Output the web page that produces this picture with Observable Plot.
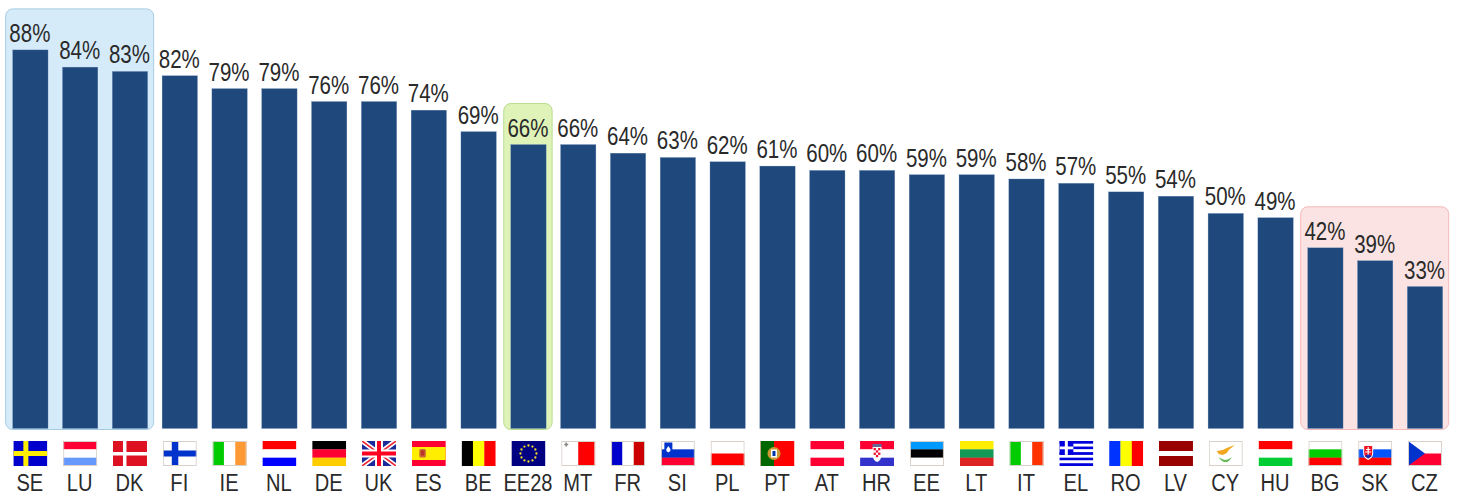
<!DOCTYPE html>
<html><head><meta charset="utf-8">
<script src="https://cdn.jsdelivr.net/npm/d3@7"></script>
<script src="https://cdn.jsdelivr.net/npm/@observablehq/plot@0.6"></script>
<style>html,body{margin:0;padding:0;background:#fff;overflow:hidden}svg{display:block}</style>
</head><body><div id="chart"></div>
<script>
const codes = ["SE","LU","DK","FI","IE","NL","DE","UK","ES","BE","EE28","MT","FR","SI","PL","PT","AT","HR","EE","LT","IT","EL","RO","LV","CY","HU","BG","SK","CZ"];
const shares = [88,84,83,82,79,79,76,76,74,69,66,66,64,63,62,61,60,60,59,59,58,57,55,54,50,49,42,39,33];
const groupFrom = ["SE","EE28","BG"];
const groupTo = ["DK","EE28","CZ"];
const groupFill = ["#d6ebfa","#dff3b9","#fae3e2"];
const groupStroke = ["#a6cde4","#b9db8e","#f6b9bb"];

const W=34,H=25;
const hs=(cs,extra="")=>{const h=H/cs.length;return cs.map((c,i)=>`<rect x="0" y="${i*h}" width="${W}" height="${h+.2}" fill="${c}"/>`).join("")+extra};
const vs=(cs,extra="")=>{const w=W/cs.length;return cs.map((c,i)=>`<rect x="${i*w}" y="0" width="${w+.2}" height="${H}" fill="${c}"/>`).join("")+extra};
const border=`<rect x=".5" y=".5" width="33" height="24" fill="none" stroke="#d8d0ca"/>`;
const stars=Array.from({length:12},(_,i)=>{const a=i*Math.PI/6;return `<circle cx="${17+8*Math.sin(a)}" cy="${12.5-8*Math.cos(a)}" r="1.15" fill="#f4dc2a"/>`}).join("");
const greek=Array.from({length:9},(_,i)=>`<rect x="0" y="${i*25/9}" width="34" height="${25/9+.1}" fill="${i%2?"#fff":"#0000dd"}"/>`).join("")+`<rect width="14" height="13.9" fill="#0000dd"/><rect x="5.5" width="3" height="13.9" fill="#fff"/><rect y="5.5" width="14" height="2.8" fill="#fff"/>`;
const flagArt = {
 SE:`<rect width="34" height="25" fill="#0000cc"/><rect x="10" width="5" height="25" fill="#ffee00"/><rect y="10" width="34" height="5" fill="#ffee00"/>`,
 LU:hs(["#ff0033","#ffffff","#6699ff"])+border,
 DK:`<rect width="34" height="25" fill="#dd1122"/><rect x="10" width="3.5" height="25" fill="#fff"/><rect y="11" width="34" height="3.5" fill="#fff"/>`,
 FI:`<rect width="34" height="25" fill="#fff"/><rect x="9" width="6.5" height="25" fill="#0033cc"/><rect y="9.5" width="34" height="6" fill="#0033cc"/>`+border,
 IE:vs(["#00cc00","#ffffff","#ff9933"])+border,
 NL:hs(["#ff0000","#ffffff","#0000ff"]),
 DE:hs(["#000000","#ff0033","#ffcc00"]),
 UK:`<rect width="34" height="25" fill="#1a2a9a"/><path d="M0 0L34 25M34 0L0 25" stroke="#fff" stroke-width="5"/><path d="M0 0L34 25M34 0L0 25" stroke="#ee2233" stroke-width="1.6"/><rect x="13" width="8" height="25" fill="#fff"/><rect y="8.5" width="34" height="8" fill="#fff"/><rect x="15" width="4" height="25" fill="#ff0022"/><rect y="10.5" width="34" height="4" fill="#ff0022"/>`,
 ES:`<rect width="34" height="25" fill="#ff0033"/><rect y="6" width="34" height="13" fill="#ffee00"/><rect x="7.5" y="8" width="6.5" height="8.5" rx="1.5" fill="#cc6633"/><rect x="9" y="9.5" width="3.5" height="5" fill="#b8352a"/>`,
 BE:vs(["#000000","#ffff00","#ff0000"]),
 EE28:`<rect width="34" height="25" fill="#000080"/>`+stars,
 MT:vs(["#ffffff","#ff0000"],`<path d="M3 3.5h4M5 1.5v4" stroke="#888" stroke-width="1.6"/>`)+border,
 FR:vs(["#0000cc","#ffffff","#cc0000"])+border,
 SI:hs(["#ffffff","#0033cc","#ff0033"],`<path d="M3.5 1.5h8v7q0 4-4 5q-4-1-4-5z" fill="#0033cc"/><path d="M5.5 8l2-3 2 3v2l-2 1.5-2-1.5z" fill="#fff"/>`)+border,
 PL:hs(["#ffffff","#ff0000"])+border,
 PT:`<rect width="34" height="25" fill="#ff0000"/><rect width="13.5" height="25" fill="#006600"/><circle cx="13.5" cy="12.5" r="6.5" fill="#cc9933"/><rect x="10.5" y="8.5" width="6" height="8" fill="#fff"/><rect x="12" y="10" width="3" height="5" fill="#0033aa"/>`,
 AT:hs(["#ff0033","#ffffff","#ff0033"]),
 HR:hs(["#ff0033","#ffffff","#3333cc"],`<rect x="12.5" y="3" width="9" height="3" fill="#666699"/><path d="M12.5 6h9v9q-1 5-4.5 6q-3.500-1-4.500-6z" fill="#fff"/><rect x="13.500" y="7" width="2.300" height="2.300" fill="#ee1133"/><rect x="18" y="7" width="2.300" height="2.300" fill="#ee1133"/><rect x="15.800" y="9.300" width="2.300" height="2.300" fill="#ee1133"/><rect x="13.500" y="11.600" width="2.300" height="2.300" fill="#ee1133"/><rect x="18" y="11.600" width="2.300" height="2.300" fill="#ee1133"/><rect x="15.800" y="13.900" width="2.300" height="2.300" fill="#ee1133"/>`),
 EE:hs(["#0099ff","#000000","#ffffff"])+border,
 LT:hs(["#ffee00","#119955","#dd2222"]),
 IT:vs(["#00cc00","#ffffff","#ff3300"])+border,
 EL:greek,
 RO:vs(["#0033ff","#ffff00","#ff0000"]),
 LV:`<rect width="34" height="25" fill="#990000"/><rect y="10" width="34" height="5" fill="#fff"/>`,
 CY:`<rect width="34" height="25" fill="#fff"/><path d="M8 10l6-1 4-2 8-3-6 5-2 3-4 2-4-1z" fill="#f2a71e"/><path d="M10 16q7 6 13 0q-3 6-6.500 5q-4 0-6.500-5z" fill="#66bb55"/>`+border,
 HU:hs(["#ff0000","#ffffff","#00cc33"]),
 BG:hs(["#ffffff","#00cc00","#ff0000"])+border,
 SK:hs(["#ffffff","#0055ff","#ff0000"],`<path d="M5 4h10v8q0 5-5 7q-5-2-5-7z" fill="#fff"/><path d="M6 5h8v7q0 4-4 5.500q-4-1.500-4-5.500z" fill="#ee1122"/><path d="M10 6v9M7.800 8.500h4.400M7 11h6" stroke="#fff" stroke-width="1.200"/><path d="M6.500 15q3.500-3 7 0l-3.500 2.500z" fill="#1133bb"/>`)+border,
 CZ:hs(["#ffffff","#ff0033"],`<path d="M0 0L17 12.500L0 25z" fill="#0033cc"/>`)+border
};
const flagSrc = c => "data:image/svg+xml," + encodeURIComponent(`<svg xmlns="http://www.w3.org/2000/svg" width="34" height="25" viewBox="0 0 34 25" preserveAspectRatio="none">${flagArt[c]}</svg>`);

const rows = codes.map((code,i)=>({code,share:shares[i]}));
const byCode = new Map(rows.map(d=>[d.code,d.share]));
const groups = groupFrom.map((from,i)=>({from,to:groupTo[i],top:byCode.get(from),fill:groupFill[i],stroke:groupStroke[i]}));
const font = "'Liberation Sans',Arial,sans-serif";

const chart = Plot.plot({
  width:1457,height:497,marginTop:0,marginBottom:68.5,marginLeft:5.45,marginRight:7.1,
  style:{fontFamily:font,color:"#2a2a2a",background:"#fff"},
  x:{type:"band",domain:codes,paddingInner:.29,paddingOuter:.145,round:false,axis:null},
  y:{domain:[0,99.6],axis:null},
  color:{type:"identity"},
  marks:[
    Plot.rect(groups,{x1:"from",x2:"to",y1:()=>0,y2:"top",fill:"fill",stroke:"stroke",rx:7,insetTop:-41,insetBottom:-1,insetLeft:-7,insetRight:-6}),
    Plot.barY(rows,{x:"code",y:"share",fill:"#1f497c",stroke:"#6f91ba",strokeWidth:.3}),
    Plot.text(rows,{x:"code",y:"share",text:d=>d.share+"%",fontSize:25,lineAnchor:"bottom",dy:-8.5,dx:-1,fill:"#2a2a2a"}),
    Plot.image(codes,{x:d=>d,frameAnchor:"bottom",dx:-.5,dy:24.5,width:34,height:25,src:flagSrc,preserveAspectRatio:"none"}),
    Plot.axisX({anchor:"bottom",tickSize:0,tickPadding:44.5,fontSize:24.5,dx:-1,label:null,fill:"#2a2a2a"})
  ]
});
document.getElementById("chart").append(chart);
// The reference type is a condensed Arial; no narrow face is installed, so condense the real text glyphs.
chart.querySelectorAll("text").forEach(t=>{
  const len=t.getComputedTextLength();
  t.setAttribute("textLength",(len*0.82).toFixed(1));
  t.setAttribute("lengthAdjust","spacingAndGlyphs");
});
</script></body></html>
